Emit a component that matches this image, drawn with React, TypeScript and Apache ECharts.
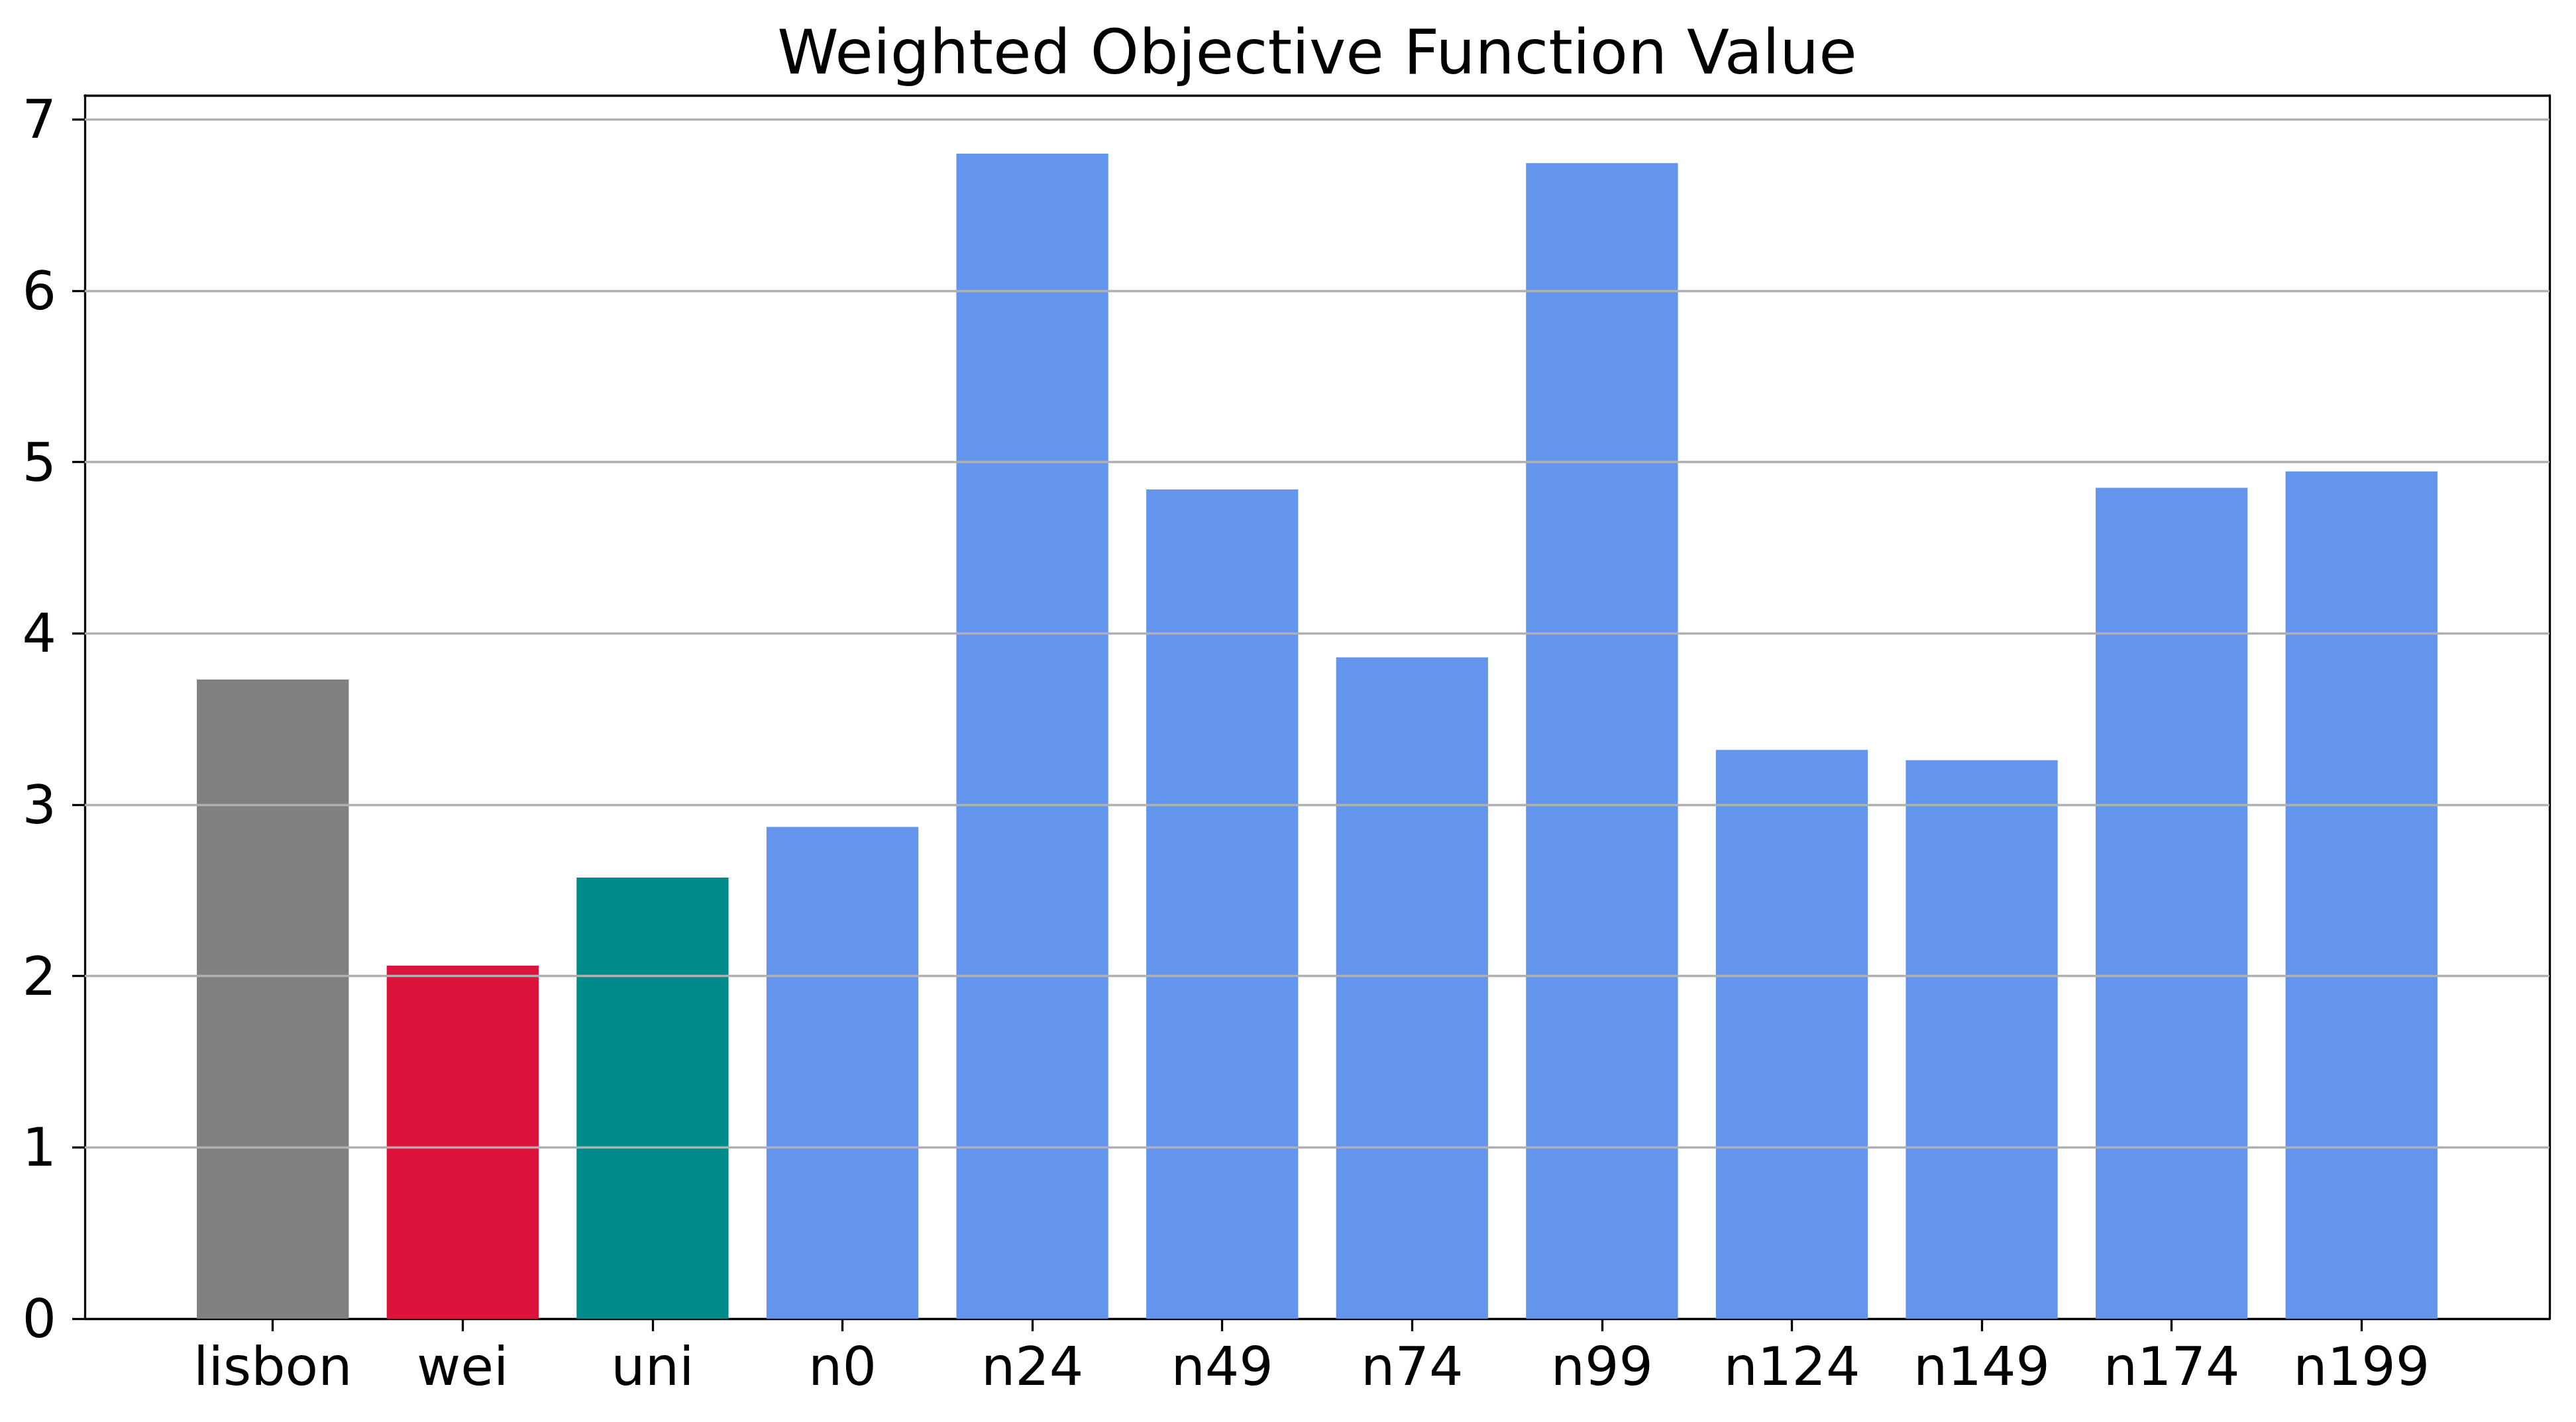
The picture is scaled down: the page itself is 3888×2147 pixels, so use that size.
import React, { useEffect, useRef } from 'react';
import * as echarts from 'echarts';

const titleText = 'Weighted Objective Function Value';
const categories = ['lisbon', 'wei', 'uni', 'n0', 'n24', 'n49', 'n74', 'n99', 'n124', 'n149', 'n174', 'n199'];
const values = [3.73, 2.06, 2.575, 2.87, 6.8, 4.84, 3.86, 6.745, 3.32, 3.26, 4.85, 4.945];
const barColors = ['#808080', '#DC143C', '#008B8B', '#6495ED', '#6495ED', '#6495ED', '#6495ED', '#6495ED', '#6495ED', '#6495ED', '#6495ED', '#6495ED'];
const yTicks = [0, 1, 2, 3, 4, 5, 6, 7];
const xTicks = categories.map((_, i) => i);

const X_MIN = -0.99;
const X_MAX = 11.99;
const Y_MIN = 0;
const Y_MAX = 7.14;

const W = 3888;
const H = 2147;
const GRID = { left: 128, right: 40, top: 144, bottom: 156 };
const FONT = 'DejaVu Sans';
const LINE_W = 3.3;
const TICK_FONT = 81;

export default function App() {
  const ref = useRef<HTMLDivElement>(null);
  useEffect(() => {
    document.body.style.margin = '0';
    const chart = echarts.init(ref.current!, null, { renderer: 'svg' });
    const plotW = W - GRID.left - GRID.right;
    const barW = (0.8 * plotW) / (X_MAX - X_MIN);
    const axisLineStyle = { color: '#000', width: LINE_W };
    chart.setOption({
      animation: false,
      backgroundColor: '#fff',
      grid: { ...GRID, containLabel: false, outerBoundsMode: 'none' },
      graphic: [
        {
          type: 'text',
          x: GRID.left + plotW / 2,
          y: 78,
          style: {
            text: titleText,
            fontFamily: FONT,
            fontSize: 93.5,
            fill: '#000',
            align: 'center',
            verticalAlign: 'middle',
            textAlign: 'center',
            textVerticalAlign: 'middle',
          },
        },
      ],
      xAxis: [
        {
          type: 'value',
          min: X_MIN,
          max: X_MAX,
          position: 'bottom',
          axisLine: { show: true, onZero: false, lineStyle: axisLineStyle },
          axisTick: { show: true, length: 19, lineStyle: axisLineStyle, customValues: xTicks },
          axisLabel: {
            show: true,
            customValues: xTicks,
            margin: 31,
            fontFamily: FONT,
            fontSize: TICK_FONT,
            color: '#000',
            formatter: (v: number) => categories[Math.round(v)] ?? '',
          },
          splitLine: { show: false },
        },
        {
          type: 'value',
          min: X_MIN,
          max: X_MAX,
          position: 'top',
          axisLine: { show: true, onZero: false, lineStyle: axisLineStyle },
          axisTick: { show: false },
          axisLabel: { show: false },
          splitLine: { show: false },
        },
      ],
      yAxis: [
        {
          type: 'value',
          min: Y_MIN,
          max: Y_MAX,
          position: 'left',
          axisLine: { show: true, onZero: false, lineStyle: axisLineStyle },
          axisTick: { show: true, length: 19, lineStyle: axisLineStyle, customValues: yTicks },
          axisLabel: {
            show: true,
            customValues: yTicks,
            margin: 43,
            fontFamily: FONT,
            fontSize: TICK_FONT,
            color: '#000',
            formatter: (v: number) => String(v),
          },
          splitLine: { show: false },
        },
        {
          type: 'value',
          min: Y_MIN,
          max: Y_MAX,
          position: 'right',
          axisLine: { show: true, onZero: false, lineStyle: axisLineStyle },
          axisTick: { show: false },
          axisLabel: { show: false },
          splitLine: { show: false },
        },
      ],
      series: [
        {
          type: 'bar',
          xAxisIndex: 0,
          yAxisIndex: 0,
          barWidth: barW,
          data: values.map((v, i) => ({ value: [xTicks[i], v], itemStyle: { color: barColors[i] } })),
          markLine: {
            silent: true,
            symbol: ['none', 'none'],
            label: { show: false },
            emphasis: { disabled: true },
            lineStyle: { color: '#b0b0b0', width: LINE_W, type: 'solid' },
            data: yTicks.filter((t) => t > 0).map((t) => ({ yAxis: t })),
          },
        },
      ],
    });
    return () => chart.dispose();
  }, []);
  return <div ref={ref} style={{ width: W, height: H }} />;
}
